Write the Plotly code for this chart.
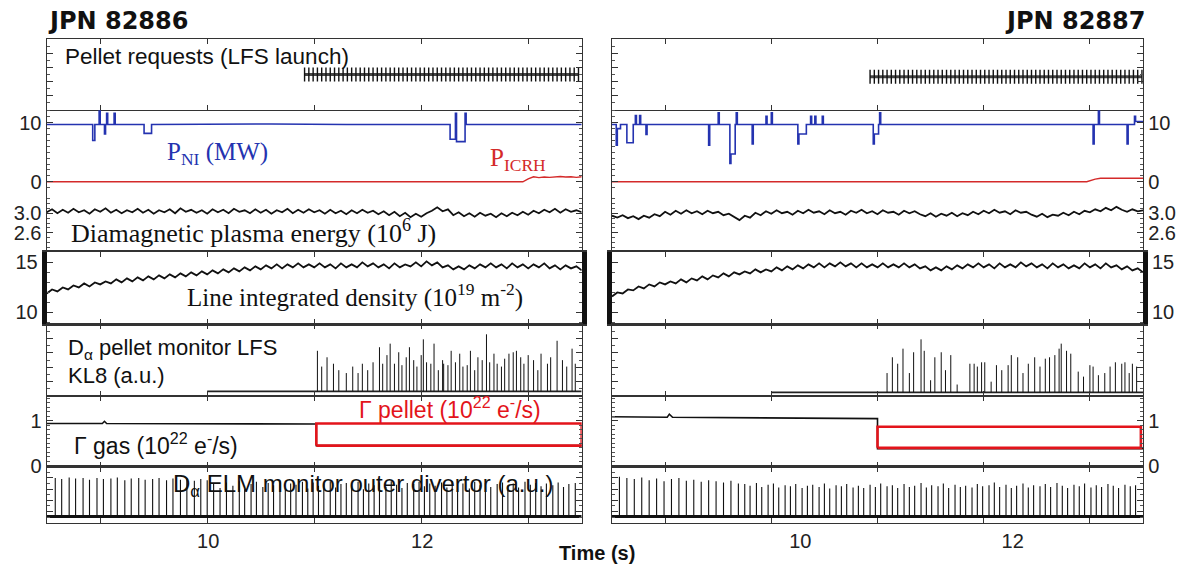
import plotly.graph_objects as go
import numpy as np

# ------------------------------------------------------------------ data
T_RANGE = [8.5, 13.5]
shots = ["JPN 82886", "JPN 82887"]
x_ticks = [9, 10, 11, 12, 13]
x_ticktext = ["", "10", "", "12", ""]

# pellet requests (times, s)
pelreq_L = [10.91, 10.95, 10.99, 11.03, 11.07, 11.11, 11.15, 11.19, 11.23, 11.27, 11.31, 11.35, 11.39,
            11.43, 11.47, 11.51, 11.55, 11.59, 11.63, 11.67, 11.71, 11.75, 11.79, 11.83, 11.87, 11.91,
            11.95, 11.99, 12.03, 12.07, 12.11, 12.15, 12.19, 12.23, 12.27, 12.31, 12.35, 12.39, 12.43,
            12.47, 12.51, 12.55, 12.59, 12.63, 12.67, 12.71, 12.75, 12.79, 12.83, 12.87, 12.91, 12.95,
            12.99, 13.03, 13.07, 13.11, 13.15, 13.19, 13.23, 13.27, 13.31, 13.35, 13.39, 13.43, 13.47]
pelreq_R = [10.93, 10.97, 11.01, 11.05, 11.09, 11.13, 11.17, 11.21, 11.25, 11.29, 11.33, 11.37, 11.41,
            11.45, 11.49, 11.53, 11.57, 11.61, 11.65, 11.69, 11.73, 11.77, 11.81, 11.85, 11.89, 11.93,
            11.97, 12.01, 12.05, 12.09, 12.13, 12.17, 12.21, 12.25, 12.29, 12.33, 12.37, 12.41, 12.45,
            12.49, 12.53, 12.57, 12.61, 12.65, 12.69, 12.73, 12.77, 12.81, 12.85, 12.89, 12.93, 12.97,
            13.01, 13.05, 13.09, 13.13, 13.17, 13.21, 13.25, 13.29, 13.33, 13.37, 13.41, 13.45, 13.49]
pelreq_level = [0.5, 0.47]

# P_NI (MW) step signals: (time, value)
pni_L = [(8.50, 9.7), (8.93, 9.7), (8.93, 7.0), (8.95, 7.0), (8.95, 9.7), (8.99, 9.7), (8.99, 12.0),
         (9.00, 12.0), (9.00, 9.7), (9.04, 9.7), (9.04, 8.1), (9.05, 8.1), (9.05, 9.7), (9.06, 9.7),
         (9.06, 11.6), (9.07, 11.6), (9.07, 9.7), (9.13, 9.7), (9.13, 11.6), (9.14, 11.6), (9.14, 9.7),
         (9.41, 9.7), (9.41, 8.2), (9.48, 8.2), (9.48, 9.7), (10.6, 9.8), (11.3, 9.7), (12.27, 9.7),
         (12.27, 7.2), (12.32, 7.2), (12.32, 11.6), (12.33, 11.6), (12.33, 6.8), (12.41, 6.8),
         (12.41, 11.6), (12.42, 11.6), (12.42, 9.7), (13.50, 9.7)]
pni_R = [(8.50, 9.7), (8.54, 9.7), (8.54, 6.2), (8.55, 6.2), (8.55, 9.0), (8.58, 9.0), (8.58, 9.7),
         (8.64, 9.7), (8.64, 6.6), (8.70, 6.6), (8.70, 9.7), (8.72, 9.7), (8.72, 11.2), (8.73, 11.2),
         (8.73, 9.7), (8.76, 9.7), (8.76, 11.2), (8.77, 11.2), (8.77, 9.7), (8.82, 9.7), (8.82, 8.0),
         (8.83, 8.0), (8.83, 9.7), (9.41, 9.7), (9.41, 6.2), (9.42, 6.2), (9.42, 9.7), (9.50, 9.7),
         (9.50, 11.7), (9.51, 11.7), (9.51, 9.7), (9.61, 9.7), (9.61, 3.1), (9.62, 3.1), (9.62, 4.7),
         (9.66, 4.7), (9.66, 9.7), (9.67, 9.7), (9.67, 11.7), (9.68, 11.7), (9.68, 9.7), (9.82, 9.7),
         (9.82, 6.4), (9.83, 6.4), (9.83, 9.7), (9.95, 9.7), (9.95, 11.1), (9.96, 11.1), (9.96, 9.7),
         (10.00, 9.7), (10.00, 11.7), (10.01, 11.7), (10.01, 9.7), (10.25, 9.7), (10.25, 6.4),
         (10.26, 6.4), (10.26, 8.1), (10.33, 8.1), (10.33, 9.7), (10.37, 9.7), (10.37, 11.1),
         (10.38, 11.1), (10.38, 9.7), (10.41, 9.7), (10.41, 11.1), (10.42, 11.1), (10.42, 9.7),
         (10.48, 9.7), (10.48, 11.1), (10.49, 11.1), (10.49, 9.7), (10.96, 9.7), (10.96, 6.4),
         (10.97, 6.4), (10.97, 8.1), (11.01, 8.1), (11.01, 9.7), (11.02, 9.7), (11.02, 11.7),
         (11.03, 11.7), (11.03, 9.7), (13.03, 9.7), (13.03, 6.4), (13.04, 6.4), (13.04, 9.7),
         (13.08, 9.7), (13.08, 12.0), (13.09, 12.0), (13.09, 9.7), (13.35, 9.7), (13.35, 6.4),
         (13.36, 6.4), (13.36, 9.7), (13.42, 9.7), (13.42, 11.1), (13.43, 11.1), (13.43, 10.2),
         (13.50, 10.2)]

# P_ICRH (MW)
picrh_L = [(8.5, 0.0), (12.95, 0.0), (13.0, 0.5), (13.05, 0.85), (13.1, 0.7), (13.15, 0.8), (13.2, 0.75),
           (13.3, 0.9), (13.35, 0.8), (13.4, 0.85), (13.45, 0.75), (13.5, 0.85)]
picrh_R = [(8.5, 0.0), (12.97, 0.0), (13.05, 0.45), (13.1, 0.6), (13.5, 0.6)]

# diamagnetic energy (1e6 J), sampled every 0.05 s from 8.5 s
wdia_L = [3.02, 3.08, 3.00, 3.07, 3.01, 3.09, 3.02, 3.06, 2.99, 3.08, 3.03, 3.10, 3.01, 3.07, 3.00, 3.06,
          3.02, 3.09, 3.01, 3.07, 2.99, 3.06, 3.02, 3.08, 3.00, 3.10, 3.03, 3.07, 3.01, 3.06, 2.99, 3.08,
          3.02, 3.07, 3.00, 3.09, 3.03, 3.06, 3.00, 3.08, 3.01, 3.07, 2.99, 3.06, 3.02, 3.09, 3.00, 3.07,
          3.01, 3.08, 3.02, 3.06, 2.99, 3.07, 3.00, 3.05, 2.98, 3.06, 3.00, 3.07, 3.01, 3.05, 2.98, 3.04,
          2.96, 3.03, 2.94, 3.01, 2.92, 2.99, 2.93, 3.00, 3.05, 3.12, 3.04, 3.08, 2.96, 3.02, 2.94, 3.00,
          2.93, 3.01, 2.95, 2.99, 2.92, 3.00, 2.94, 3.01, 2.96, 3.03, 2.97, 3.05, 3.00, 3.07, 3.02, 3.09,
          3.01, 3.08, 3.03, 3.06, 3.02]
wdia_R = [2.95, 2.91, 2.96, 2.90, 2.94, 2.88, 2.95, 2.91, 2.98, 2.94, 3.03, 2.97, 3.05, 2.99, 3.06, 3.00,
          3.04, 2.98, 3.05, 3.00, 3.03, 2.96, 2.99, 2.93, 2.86, 2.95, 2.91, 3.01, 2.96, 3.04, 2.99, 3.06,
          3.00, 3.03, 2.97, 3.05, 3.00, 3.07, 3.01, 3.04, 2.98, 3.06, 3.00, 3.03, 2.97, 3.05, 3.01, 3.07,
          3.00, 3.04, 2.98, 3.06, 3.01, 3.03, 2.97, 3.05, 3.00, 3.04, 2.98, 2.94, 3.00, 2.93, 2.99, 2.95,
          3.01, 2.94, 3.00, 2.96, 3.03, 2.98, 3.05, 3.00, 3.07, 3.01, 3.04, 2.98, 3.06, 3.01, 3.03, 2.97,
          2.93, 2.99, 2.92, 2.97, 2.95, 3.01, 2.96, 3.03, 2.98, 3.05, 3.02, 3.08, 3.04, 3.11, 3.06, 3.13,
          3.07, 3.03, 3.08, 3.04, 3.06]

# line integrated density (1e19 m^-2), every 0.05 s from 8.5 s
dens_L = [11.9, 12.3, 12.1, 12.5, 12.3, 12.7, 12.5, 12.9, 12.6, 13.0, 12.8, 13.1, 12.9, 13.3, 13.0, 13.4,
          13.1, 13.5, 13.2, 13.6, 13.3, 13.7, 13.4, 13.8, 13.5, 13.9, 13.6, 14.0, 13.7, 14.1, 13.8, 14.2,
          13.9, 14.3, 14.0, 14.4, 14.1, 14.5, 14.2, 14.6, 14.3, 14.7, 14.4, 14.8, 14.4, 14.8, 14.5, 14.9,
          14.5, 14.8, 14.5, 14.9, 14.5, 14.8, 14.4, 14.9, 14.5, 14.8, 14.5, 15.0, 14.6, 14.9, 14.5, 14.8,
          14.4, 14.9, 14.5, 14.8, 14.6, 15.0, 14.6, 15.1, 14.7, 15.0, 14.5, 14.7, 14.3, 14.6, 14.3, 14.7,
          14.4, 14.8, 14.5, 14.9, 14.5, 14.8, 14.4, 14.9, 14.5, 14.8, 14.4, 14.8, 14.5, 14.9, 14.4, 14.7,
          14.3, 14.7, 14.4, 14.6, 14.2]
dens_R = [11.6, 12.0, 11.9, 12.3, 12.2, 12.6, 12.4, 12.8, 12.6, 13.0, 12.8, 13.1, 12.9, 13.3, 13.0, 13.4,
          13.2, 13.6, 13.3, 13.7, 13.5, 13.9, 13.6, 14.0, 13.8, 14.1, 13.9, 14.3, 14.0, 14.3, 14.1, 14.5,
          14.2, 14.6, 14.3, 14.7, 14.4, 14.8, 14.5, 14.9, 14.5, 14.9, 14.6, 15.0, 14.6, 14.9, 14.5, 14.9,
          14.5, 14.8, 14.5, 14.9, 14.5, 14.8, 14.5, 14.9, 14.5, 14.8, 14.4, 14.6, 14.2, 14.5, 14.2, 14.6,
          14.3, 14.7, 14.4, 14.8, 14.5, 14.9, 14.5, 14.8, 14.4, 14.9, 14.5, 14.8, 14.5, 15.0, 14.6, 14.9,
          14.5, 14.8, 14.4, 14.9, 14.5, 14.8, 14.4, 14.7, 14.4, 14.9, 14.5, 14.8, 14.4, 14.9, 14.5, 14.7,
          14.3, 14.6, 14.2, 14.4, 14.0]

# D-alpha pellet monitor (a.u.)
dap_start = [10.0, 10.0]
dap_base = [0.065, 0.05]
dap_L_t = [11.03, 11.07, 11.12, 11.18, 11.23, 11.30, 11.36, 11.41, 11.45, 11.50, 11.55, 11.61, 11.64,
           11.68, 11.71, 11.75, 11.79, 11.82, 11.86, 11.89, 11.93, 11.96, 12.00, 12.02, 12.05, 12.09,
           12.12, 12.16, 12.20, 12.21, 12.25, 12.28, 12.32, 12.36, 12.39, 12.43, 12.46, 12.50, 12.53,
           12.57, 12.61, 12.64, 12.68, 12.71, 12.75, 12.78, 12.82, 12.86, 12.89, 12.93, 12.96, 13.00,
           13.05, 13.09, 13.12, 13.18, 13.21, 13.27, 13.32, 13.36, 13.41, 13.44]
dap_L_h = [0.63, 0.41, 0.54, 0.45, 0.36, 0.32, 0.41, 0.32, 0.45, 0.36, 0.47, 0.68, 0.45, 0.57, 0.73, 0.45,
           0.61, 0.43, 0.54, 0.68, 0.50, 0.41, 0.57, 0.79, 0.47, 0.45, 0.73, 0.36, 0.50, 0.45, 0.43, 0.63,
           0.47, 0.59, 0.41, 0.43, 0.63, 0.36, 0.54, 0.50, 0.86, 0.47, 0.59, 0.45, 0.41, 0.52, 0.59, 0.61,
           0.63, 0.54, 0.45, 0.57, 0.50, 0.36, 0.59, 0.45, 0.54, 0.77, 0.50, 0.41, 0.66, 0.45]
dap_R_t = [11.09, 11.14, 11.19, 11.24, 11.30, 11.34, 11.41, 11.44, 11.50, 11.54, 11.60, 11.64, 11.69,
           11.75, 11.87, 11.91, 11.94, 11.98, 12.01, 12.07, 12.12, 12.17, 12.23, 12.26, 12.32, 12.37,
           12.42, 12.48, 12.53, 12.58, 12.62, 12.67, 12.71, 12.73, 12.78, 12.82, 12.89, 12.94, 13.00,
           13.03, 13.08, 13.14, 13.19, 13.24, 13.30, 13.33, 13.37, 13.40, 13.44]
dap_R_h = [0.32, 0.54, 0.45, 0.66, 0.32, 0.61, 0.79, 0.63, 0.22, 0.54, 0.61, 0.36, 0.57, 0.16, 0.45, 0.45,
           0.41, 0.47, 0.47, 0.20, 0.43, 0.36, 0.43, 0.57, 0.54, 0.32, 0.45, 0.54, 0.41, 0.52, 0.54, 0.57,
           0.66, 0.73, 0.63, 0.59, 0.34, 0.27, 0.43, 0.41, 0.29, 0.32, 0.41, 0.47, 0.45, 0.47, 0.32, 0.45,
           0.41]

# gas and pellet fuelling (1e22 e-/s)
gas_L = [(8.5, 0.94), (9.02, 0.94), (9.04, 0.99), (9.06, 0.94), (11.02, 0.93), (11.02, 0.45), (13.5, 0.45)]
gas_R = [(8.5, 1.09), (9.02, 1.08), (9.04, 1.15), (9.07, 1.08), (11.0, 1.05), (11.0, 0.38), (13.5, 0.38)]
gpel_t = [[11.02, 13.5], [11.0, 13.48]]
gpel_lo = [0.45, 0.40]
gpel_hi = [0.94, 0.87]

# D-alpha ELM monitor (a.u.)
elm_base = [0.11, 0.11]
elm_L_t = [8.58, 8.64, 8.71, 8.77, 8.84, 8.90, 8.97, 9.03, 9.10, 9.16, 9.23, 9.29, 9.36, 9.42, 9.49, 9.55,
           9.62, 9.68, 9.75, 9.81, 9.88, 9.94, 10.00, 10.06, 10.12, 10.18, 10.24, 10.30, 10.35, 10.41,
           10.46, 10.52, 10.57, 10.62, 10.68, 10.73, 10.78, 10.83, 10.89, 10.94, 10.99, 11.04, 11.09,
           11.15, 11.20, 11.25, 11.30, 11.35, 11.41, 11.46, 11.51, 11.56, 11.61, 11.67, 11.72, 11.77,
           11.82, 11.87, 11.93, 11.98, 12.03, 12.08, 12.13, 12.19, 12.24, 12.29, 12.34, 12.39, 12.45,
           12.50, 12.55, 12.60, 12.65, 12.71, 12.76, 12.81, 12.86, 12.91, 12.97, 13.02, 13.07, 13.12,
           13.17, 13.23, 13.28, 13.33, 13.38, 13.44]
elm_L_h = [0.80, 0.78, 0.81, 0.79, 0.80, 0.77, 0.80, 0.78, 0.79, 0.81, 0.76, 0.79, 0.80, 0.77, 0.78, 0.80,
           0.76, 0.79, 0.77, 0.80, 0.75, 0.78, 0.76, 0.70, 0.62, 0.72, 0.66, 0.74, 0.60, 0.69, 0.73, 0.64,
           0.71, 0.67, 0.75, 0.62, 0.70, 0.68, 0.73, 0.61, 0.72, 0.66, 0.70, 0.74, 0.63, 0.69, 0.71, 0.65,
           0.73, 0.60, 0.70, 0.67, 0.72, 0.64, 0.74, 0.68, 0.62, 0.71, 0.69, 0.73, 0.65, 0.70, 0.66, 0.72,
           0.63, 0.74, 0.68, 0.70, 0.61, 0.73, 0.67, 0.71, 0.64, 0.69, 0.72, 0.66, 0.70, 0.63, 0.73, 0.68,
           0.71, 0.65, 0.70, 0.67, 0.72, 0.64, 0.69, 0.71]
elm_R_t = [8.57, 8.64, 8.71, 8.78, 8.85, 8.92, 8.99, 9.06, 9.13, 9.20, 9.27, 9.34, 9.41, 9.48, 9.55, 9.62,
           9.69, 9.75, 9.80, 9.86, 9.91, 9.97, 10.02, 10.07, 10.13, 10.18, 10.23, 10.29, 10.34, 10.39,
           10.45, 10.50, 10.55, 10.61, 10.66, 10.71, 10.77, 10.82, 10.87, 10.93, 10.98, 11.03, 11.09,
           11.14, 11.19, 11.25, 11.30, 11.35, 11.41, 11.46, 11.51, 11.57, 11.62, 11.67, 11.73, 11.78,
           11.83, 11.89, 11.94, 11.99, 12.05, 12.10, 12.15, 12.21, 12.26, 12.31, 12.37, 12.42, 12.47,
           12.53, 12.58, 12.63, 12.69, 12.74, 12.79, 12.85, 12.90, 12.95, 13.01, 13.06, 13.11, 13.17,
           13.22, 13.27, 13.33, 13.38, 13.43]
elm_R_h = [0.82, 0.80, 0.78, 0.81, 0.76, 0.79, 0.74, 0.78, 0.80, 0.75, 0.77, 0.73, 0.76, 0.74, 0.72, 0.75,
           0.70, 0.69, 0.66, 0.71, 0.64, 0.68, 0.70, 0.63, 0.67, 0.65, 0.69, 0.62, 0.66, 0.68, 0.64, 0.70,
           0.61, 0.67, 0.65, 0.69, 0.63, 0.66, 0.62, 0.68, 0.64, 0.70, 0.65, 0.67, 0.62, 0.69, 0.64, 0.66,
           0.71, 0.63, 0.67, 0.65, 0.70, 0.62, 0.68, 0.64, 0.66, 0.63, 0.69, 0.65, 0.67, 0.72, 0.64, 0.68,
           0.62, 0.66, 0.70, 0.63, 0.67, 0.65, 0.69, 0.64, 0.71, 0.66, 0.62, 0.68, 0.65, 0.70, 0.63, 0.67,
           0.64, 0.69, 0.66, 0.62, 0.68, 0.65, 0.67]

# panel y ranges and labelled y ticks
y_ranges = [[0, 1], [-2.0, 12.2], [2.22, 3.4], [8.82, 16.08], [0, 1], [-0.02, 1.553], [0, 1]]
y_tickvals = [[0.2, 0.4, 0.6, 0.8], [0, 10], [2.6, 3.0], [10, 15], [0.2, 0.4, 0.6, 0.8], [0, 1],
              [0.2, 0.4, 0.6, 0.8]]
y_ticktext = [None, ["0", "10"], ["2.6", "3.0"], ["10", "15"], None, ["0", "1"], None]
y_minor = [0.1, 1, 0.1, 1, 0.1, 0.1, 0.1]

# ------------------------------------------------------------------ layout geometry
W, H = 1188, 576
col_px = [(46.7, 581.7), (612, 1143)]
row_px = [(40, 111.7), (111.7, 197), (197, 256), (256, 330), (330, 403), (403, 475), (475, 532)]
col_dom = [[a / W, b / W] for a, b in col_px]
row_dom = [[1 - b / H, 1 - a / H] for a, b in row_px]
row_has_xline = [True, False, False, True, True, True, True]

SANS = "Liberation Sans, Arial, sans-serif"
SERIF = "Liberation Serif, Times New Roman, serif"
AXC = "#333333"

fig = go.Figure()


def axn(c, r):
    return c * 7 + r + 1


def refs(n):
    return ("x" if n == 1 else f"x{n}"), ("y" if n == 1 else f"y{n}")


def add(c, r, x, y, color="black", width=1.5, **kw):
    xr, yr = refs(axn(c, r))
    fig.add_trace(go.Scatter(x=x, y=y, mode="lines", xaxis=xr, yaxis=yr,
                             line=dict(color=color, width=width), showlegend=False,
                             hoverinfo="skip", **kw))


def spikes(ts, hs, base):
    xs, ys = [], []
    for t, h in zip(ts, hs):
        xs += [t, t, None]
        ys += [base, h, None]
    return xs, ys


def unz(pairs):
    return [p[0] for p in pairs], [p[1] for p in pairs]


t_grid = np.round(np.arange(len(wdia_L)) * 0.05 + T_RANGE[0], 3)

for c in range(2):
    # pellet requests
    pr = [pelreq_L, pelreq_R][c]
    xr, yr = refs(axn(c, 0))
    fig.add_trace(go.Scatter(x=pr, y=[pelreq_level[c]] * len(pr), mode="lines+markers",
                             xaxis=xr, yaxis=yr, showlegend=False, hoverinfo="skip",
                             line=dict(color="#444", width=3),
                             marker=dict(symbol="line-ns", size=10,
                                         line=dict(width=1.4, color="#111"))))
    # P_NI and P_ICRH
    x, y = unz([picrh_L, picrh_R][c])
    add(c, 1, x, y, color="#d42a2a", width=1.4)
    x, y = unz([pni_L, pni_R][c])
    add(c, 1, x, y, color="#2433b0", width=1.6)
    # W dia
    add(c, 2, t_grid, [wdia_L, wdia_R][c], color="#111", width=1.8)
    # density
    add(c, 3, t_grid, [dens_L, dens_R][c], color="#111", width=1.8)
    # D-alpha pellet monitor
    add(c, 4, [dap_start[c], T_RANGE[1]], [dap_base[c]] * 2, color="#222", width=1.6)
    sx, sy = spikes([dap_L_t, dap_R_t][c], [dap_L_h, dap_R_h][c], dap_base[c])
    add(c, 4, sx, sy, color="#111", width=1.0)
    # gas + pellet flux
    x, y = unz([gas_L, gas_R][c])
    add(c, 5, x, y, color="#111", width=1.6)
    t0, t1 = gpel_t[c]
    lo, hi = gpel_lo[c], gpel_hi[c]
    add(c, 5, [t0, t1, t1, t0, t0], [lo, lo, hi, hi, lo], color="#e3141b", width=2.6)
    # ELM monitor
    sx, sy = spikes([elm_L_t, elm_R_t][c], [elm_L_h, elm_R_h][c], elm_base[c])
    add(c, 6, sx, sy, color="#111", width=1.1)
    add(c, 6, T_RANGE, [elm_base[c]] * 2, color="#111", width=3)

layout = dict(width=W, height=H, margin=dict(l=0, r=0, t=0, b=0),
              paper_bgcolor="white", plot_bgcolor="white", showlegend=False)

for c in range(2):
    for r in range(7):
        n = axn(c, r)
        xk = "xaxis" if n == 1 else f"xaxis{n}"
        yk = "yaxis" if n == 1 else f"yaxis{n}"
        xr, yr = refs(n)
        bottom = (r == 6)
        layout[xk] = dict(domain=col_dom[c], anchor=yr, range=T_RANGE, showgrid=False,
                          zeroline=False, showline=row_has_xline[r], mirror="ticks" if row_has_xline[r] else False,
                          linecolor=AXC, linewidth=1.3,
                          ticks="inside" if row_has_xline[r] else "", ticklen=5, tickcolor=AXC,
                          tickvals=x_ticks, ticktext=x_ticktext, showticklabels=bottom,
                          tickfont=dict(family=SANS, size=20, color="#222"),
                          ticklabelshift=(29 if c == 1 else 1) if bottom else 0,
                          fixedrange=True)
        layout[yk] = dict(domain=row_dom[r], anchor=xr, range=y_ranges[r], showgrid=False,
                          zeroline=False, showline=True, mirror="ticks",
                          linecolor="#111" if r == 3 else AXC, linewidth=5 if r == 3 else 1.2,
                          ticks="inside", ticklen=6, tickcolor=AXC, tickvals=y_tickvals[r],
                          ticktext=y_ticktext[r] if y_ticktext[r] else None,
                          showticklabels=y_ticktext[r] is not None,
                          side="left" if c == 0 else "right",
                          tickfont=dict(family=SANS, size=20, color="#222"),
                          minor=dict(ticks="inside", ticklen=3, dtick=y_minor[r], tickcolor="#555",
                                     showgrid=False),
                          fixedrange=True)

fig.update_layout(**layout)


def ann(text, xpx, ypx, size=23, family=SANS, color="#111", xanchor="left", bold=False):
    if bold:
        text = f"<b>{text}</b>"
    fig.add_annotation(text=text, x=xpx / W, y=1 - ypx / H, xref="paper", yref="paper",
                       xanchor=xanchor, yanchor="middle", showarrow=False,
                       font=dict(family=family, size=size, color=color))


ann(shots[0], 46, 21, size=24, family="DejaVu Sans", bold=True)
ann(shots[1], 1147, 21, size=24, family="DejaVu Sans", bold=True, xanchor="right")
ann("Pellet requests (LFS launch)", 63, 57, size=22.5)
ann("P<sub>NI</sub> (MW)", 165, 156, size=25, family=SERIF, color="#2433b0")
ann("P<sub>ICRH</sub>", 488, 162, size=25, family=SERIF, color="#d42a2a")
ann("Diamagnetic plasma energy (10<sup>6</sup> J)", 69, 236, size=26, family=SERIF)
ann("Line integrated density (10<sup>19</sup> m<sup>-2</sup>)", 185, 301, size=25, family=SERIF)
ann("D<sub>α</sub> pellet monitor LFS", 66, 355, size=22)
ann("KL8 (a.u.)", 66, 382, size=22)
ann("Γ pellet (10<sup>22</sup> e<sup>-</sup>/s)", 357, 415, size=23, color="#e3141b")
ann("Γ gas (10<sup>22</sup> e<sup>-</sup>/s)", 72, 452, size=23)
ann("D<sub>α</sub> ELM monitor outer divertor (a.u.)", 171, 494, size=24)
ann("Time (s)", 597, 563, size=20, xanchor="center", bold=True)

fig.write_html("out.html", config={"displayModeBar": False, "staticPlot": True},
               post_script="document.body.style.margin='0';")
